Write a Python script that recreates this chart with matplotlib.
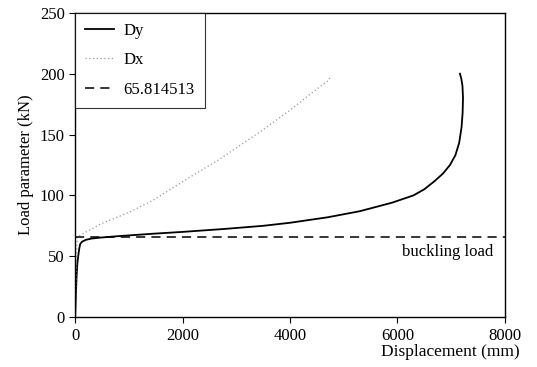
import matplotlib.pyplot as plt
import numpy as np

plt.rcParams['font.family'] = ['Liberation Serif', 'DejaVu Serif']

# Dy curve
dy_x = [0, 10, 25, 40, 56, 75, 93, 130, 200, 300, 465, 800, 1450, 2000, 2800,
        3500, 4000, 4700, 5300, 5900, 6300, 6500, 6700, 6850, 6980, 7080, 7150,
        7195, 7215, 7222, 7212, 7190, 7165]
dy_y = [0, 15, 32, 44, 50, 56, 60, 62, 63.5, 64.5, 65.3, 66.5, 68.5, 70, 72.5,
        75, 77.5, 82, 87, 94, 100, 105, 112, 118, 125, 133, 143,
        156, 168, 180, 190, 196, 200]

# Dx curve
dx_x = [0, 20, 40, 500, 1000, 1450, 2100, 2700, 3000, 3500, 4000, 4400, 4700, 4750]
dx_y = [0, 40, 66, 77, 86, 96, 114, 130, 139, 154, 170, 184, 194, 197]

buckling = 65.814513
x_ticks = [0, 2000, 4000, 6000, 8000]
y_ticks = [0, 50, 100, 150, 200, 250]


def plot_graph():
    fig = plt.figure(figsize=(5.37, 3.67), dpi=100)
    ax = fig.add_axes([0.140, 0.136, 0.800, 0.829])

    ax.plot(dy_x, dy_y, color='black', lw=1.3, label='Dy')
    ax.plot(dx_x, dx_y, color='#999999', lw=0.9, ls=(0, (1, 2)), label='Dx')
    ax.axhline(buckling, color='black', lw=1.1, ls=(0, (6, 4)), label='65.814513')
    ax.text(7777, 53.5, 'buckling load', ha='right', va='center', fontsize=12)

    ax.set_xlim(0, 8000)
    ax.set_ylim(0, 250)
    ax.set_xticks(x_ticks)
    ax.set_yticks(y_ticks)
    ax.tick_params(labelsize=12, direction='out', length=4, width=0.8)
    for s in ax.spines.values():
        s.set_linewidth(1.0)

    ax.set_ylabel('Load parameter (kN)', fontsize=12, labelpad=4)
    fig.text(0.968, 0.04, 'Displacement (mm)', ha='right', va='center', fontsize=12.5)

    leg = ax.legend(loc='upper left', borderaxespad=0, fontsize=12, frameon=True,
                    fancybox=False, handlelength=1.75, labelspacing=0.8,
                    borderpad=0.6, handletextpad=0.55)
    leg.get_frame().set_edgecolor('black')
    leg.get_frame().set_linewidth(0.8)

    fig.savefig('out.png', dpi=100)


if __name__ == '__main__':
    plot_graph()
